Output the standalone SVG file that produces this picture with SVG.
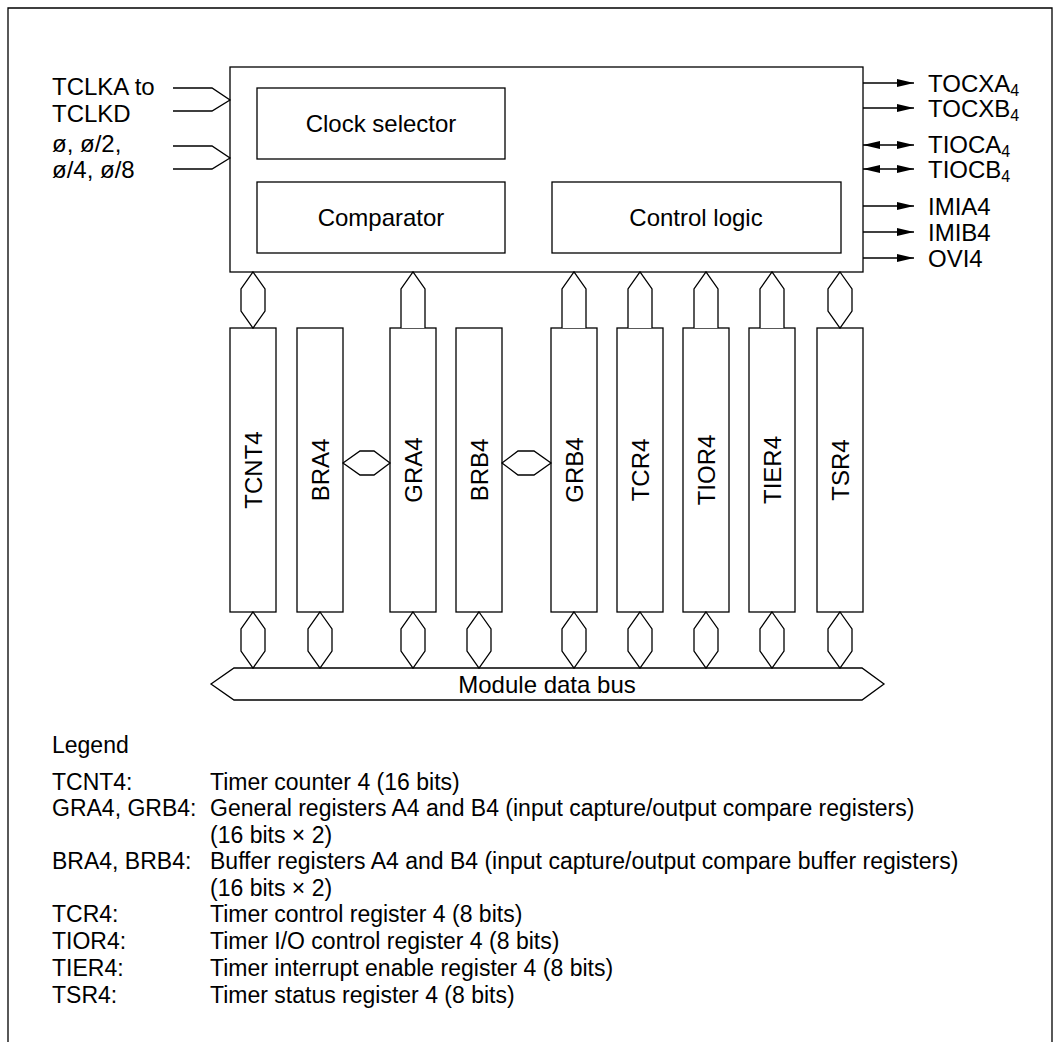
<svg xmlns="http://www.w3.org/2000/svg" width="1060" height="1042" viewBox="0 0 1060 1042">
<style>
.ln{fill:none;stroke:#000;stroke-width:1.3}
.bx{fill:#fff;stroke:#000;stroke-width:1.3}
.t{font-family:"Liberation Sans",Arial,sans-serif;font-size:24px;fill:#000}
.c{text-anchor:middle}
.lg{font-family:"Liberation Sans",Arial,sans-serif;font-size:23px;fill:#000}
.sub{font-size:16px}
</style>
<defs>
<marker id="arr" viewBox="0 0 17 8" refX="17" refY="4" markerWidth="17" markerHeight="8" markerUnits="userSpaceOnUse" orient="auto-start-reverse">
<path d="M0,0 L17,4 L0,8 z" fill="#000"/>
</marker>
</defs>
<rect width="1060" height="1042" fill="#fff"/>
<path class="ln" d="M8,1042 V8 H1052 V1042"/>

<g id="timer4">
<rect class="bx" x="230" y="67" width="633" height="205"/>
</g>
<g id="clock-selector">
<rect class="bx" x="257" y="88" width="248" height="71"/>
<text class="t c" x="381" y="132">Clock selector</text>
</g>
<g id="comparator">
<rect class="bx" x="257" y="182" width="248" height="71"/>
<text class="t c" x="381" y="226">Comparator</text>
</g>
<g id="control-logic">
<rect class="bx" x="552" y="182" width="289" height="71"/>
<text class="t c" x="696" y="226">Control logic</text>
</g>

<g id="reg-TCNT4"><rect class="bx" x="230" y="328" width="46" height="284"/><text class="t c" transform="translate(262,470) rotate(-90)">TCNT4</text></g>
<g id="reg-BRA4"><rect class="bx" x="297" y="328" width="46" height="284"/><text class="t c" transform="translate(329,470) rotate(-90)">BRA4</text></g>
<g id="reg-GRA4"><rect class="bx" x="390" y="328" width="46" height="284"/><text class="t c" transform="translate(422,470) rotate(-90)">GRA4</text></g>
<g id="reg-BRB4"><rect class="bx" x="456" y="328" width="46" height="284"/><text class="t c" transform="translate(488,470) rotate(-90)">BRB4</text></g>
<g id="reg-GRB4"><rect class="bx" x="551" y="328" width="46" height="284"/><text class="t c" transform="translate(583,470) rotate(-90)">GRB4</text></g>
<g id="reg-TCR4"><rect class="bx" x="617" y="328" width="46" height="284"/><text class="t c" transform="translate(649,470) rotate(-90)">TCR4</text></g>
<g id="reg-TIOR4"><rect class="bx" x="683" y="328" width="46" height="284"/><text class="t c" transform="translate(715,470) rotate(-90)">TIOR4</text></g>
<g id="reg-TIER4"><rect class="bx" x="749" y="328" width="46" height="284"/><text class="t c" transform="translate(781,470) rotate(-90)">TIER4</text></g>
<g id="reg-TSR4"><rect class="bx" x="817" y="328" width="46" height="284"/><text class="t c" transform="translate(849,470) rotate(-90)">TSR4</text></g>

<g id="module-data-bus">
<polygon class="bx" points="211,684 234,668 862,668 884,684 862,700 234,700"/>
<text class="t c" x="547" y="693">Module data bus</text>
</g>

<g id="connectors">
<path class="ln" d="M173,88 H212 L230,100 L212,111 H173"/>
<path class="ln" d="M173,146 H212 L230,158 L212,169 H173"/>
<line class="ln" x1="863" y1="83" x2="914" y2="83" marker-end="url(#arr)"/>
<line class="ln" x1="863" y1="108" x2="914" y2="108" marker-end="url(#arr)"/>
<line class="ln" x1="863" y1="145" x2="914" y2="145" marker-start="url(#arr)" marker-end="url(#arr)"/>
<line class="ln" x1="863" y1="169" x2="914" y2="169" marker-start="url(#arr)" marker-end="url(#arr)"/>
<line class="ln" x1="863" y1="206" x2="914" y2="206" marker-end="url(#arr)"/>
<line class="ln" x1="863" y1="232" x2="914" y2="232" marker-end="url(#arr)"/>
<line class="ln" x1="863" y1="258" x2="914" y2="258" marker-end="url(#arr)"/>
<polygon class="bx" points="253,272 265,289 265,311 253,328 241,311 241,289"/>
<path class="bx" d="M401,328 V289 L413,272 L425,289 V328"/>
<path class="bx" d="M562,328 V289 L574,272 L586,289 V328"/>
<path class="bx" d="M628,328 V289 L640,272 L652,289 V328"/>
<path class="bx" d="M694,328 V289 L706,272 L718,289 V328"/>
<path class="bx" d="M760,328 V289 L772,272 L784,289 V328"/>
<polygon class="bx" points="840,272 852,289 852,311 840,328 828,311 828,289"/>
<polygon class="bx" points="343,463 360,451 374,451 390,463 374,475 360,475"/>
<polygon class="bx" points="502,463 518,451 534,451 551,463 534,475 518,475"/>
<polygon class="bx" points="253,612 265,629 265,651 253,668 241,651 241,629"/>
<polygon class="bx" points="320,612 332,629 332,651 320,668 308,651 308,629"/>
<polygon class="bx" points="413,612 425,629 425,651 413,668 401,651 401,629"/>
<polygon class="bx" points="479,612 491,629 491,651 479,668 467,651 467,629"/>
<polygon class="bx" points="574,612 586,629 586,651 574,668 562,651 562,629"/>
<polygon class="bx" points="640,612 652,629 652,651 640,668 628,651 628,629"/>
<polygon class="bx" points="706,612 718,629 718,651 706,668 694,651 694,629"/>
<polygon class="bx" points="772,612 784,629 784,651 772,668 760,651 760,629"/>
<polygon class="bx" points="840,612 852,629 852,651 840,668 828,651 828,629"/>
</g>

<g id="labels">
<text class="t" x="52" y="95">TCLKA to</text>
<text class="t" x="52" y="122">TCLKD</text>
<text class="t" x="52" y="152">ø, ø/2,</text>
<text class="t" x="52" y="178">ø/4, ø/8</text>
<text class="t" x="928" y="92">TOCXA<tspan class="sub" dy="4">4</tspan></text>
<text class="t" x="928" y="117">TOCXB<tspan class="sub" dy="4">4</tspan></text>
<text class="t" x="928" y="153">TIOCA<tspan class="sub" dy="4">4</tspan></text>
<text class="t" x="928" y="178">TIOCB<tspan class="sub" dy="4">4</tspan></text>
<text class="t" x="928" y="215">IMIA4</text>
<text class="t" x="928" y="241">IMIB4</text>
<text class="t" x="928" y="267">OVI4</text>
</g>

<g id="legend" class="lg">
<text x="52" y="753">Legend</text>
<text x="52" y="790">TCNT4:</text><text x="210" y="790">Timer counter 4 (16 bits)</text>
<text x="52" y="816">GRA4, GRB4:</text><text x="210" y="816">General registers A4 and B4 (input capture/output compare registers)</text>
<text x="210" y="843">(16 bits × 2)</text>
<text x="52" y="869">BRA4, BRB4:</text><text x="210" y="869">Buffer registers A4 and B4 (input capture/output compare buffer registers)</text>
<text x="210" y="896">(16 bits × 2)</text>
<text x="52" y="922">TCR4:</text><text x="210" y="922">Timer control register 4 (8 bits)</text>
<text x="52" y="949">TIOR4:</text><text x="210" y="949">Timer I/O control register 4 (8 bits)</text>
<text x="52" y="976">TIER4:</text><text x="210" y="976">Timer interrupt enable register 4 (8 bits)</text>
<text x="52" y="1003">TSR4:</text><text x="210" y="1003">Timer status register 4 (8 bits)</text>
</g>
</svg>
